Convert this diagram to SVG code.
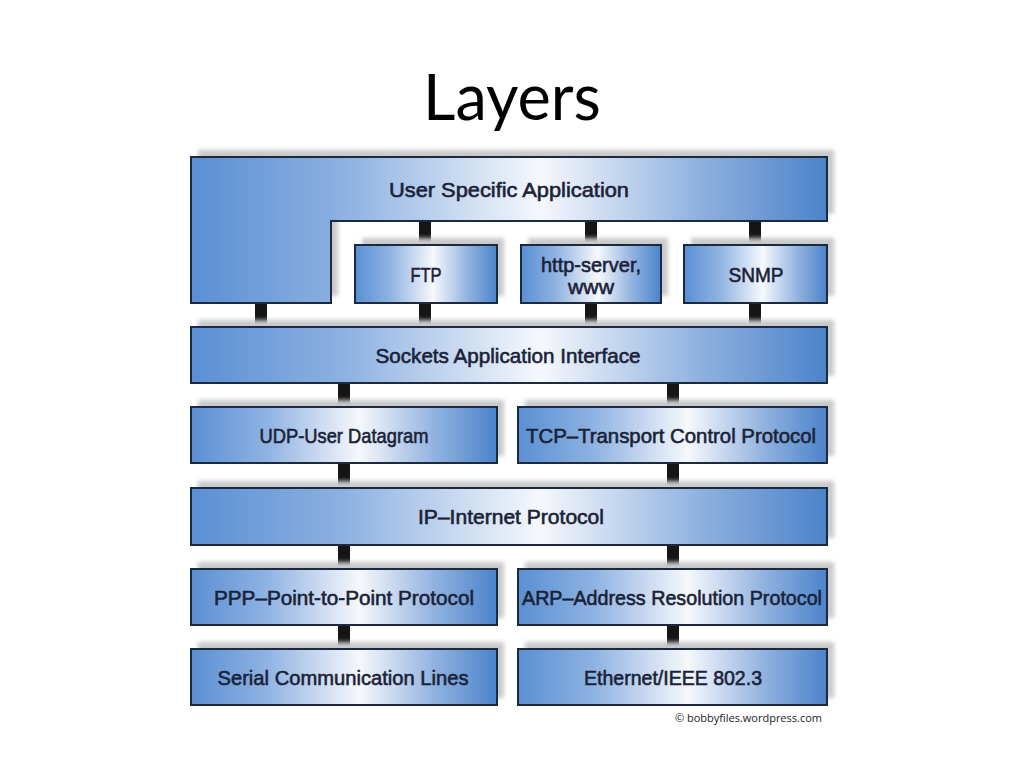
<svg xmlns="http://www.w3.org/2000/svg" width="1024" height="768" viewBox="0 0 1024 768">
<defs>
<linearGradient id="g" x1="0" y1="0" x2="1" y2="0">
<stop offset="0" stop-color="#5a8fd3"/>
<stop offset="0.25" stop-color="#8fb3e2"/>
<stop offset="0.55" stop-color="#f6f8fc"/>
<stop offset="0.8" stop-color="#8fb1df"/>
<stop offset="1" stop-color="#4c83ca"/>
</linearGradient>
<filter id="sh" x="-10%" y="-30%" width="120%" height="160%"><feGaussianBlur stdDeviation="2"/></filter>
<style>
.box{fill:url(#g);stroke:#1c2a40;stroke-width:2}
.shadow{fill:#c9c9c9;filter:url(#sh)}
.lbl{font-family:"Liberation Sans",Arial,sans-serif;font-size:21px;fill:#1a2238;text-anchor:middle;dominant-baseline:central;stroke:#1a2238;stroke-width:0.6}
.conn{fill:#151515}
</style>
</defs>
<rect width="1024" height="768" fill="#ffffff"/>
<text x="512" y="120" font-family="Lato,'Open Sans',sans-serif" font-size="63" fill="#000" text-anchor="middle">Layers</text>

<g id="connectors">
<rect class="conn" x="419" y="221" width="12" height="24"/>
<rect class="conn" x="585" y="221" width="12" height="24"/>
<rect class="conn" x="749" y="221" width="12" height="24"/>
<rect class="conn" x="255" y="303" width="12" height="24"/>
<rect class="conn" x="419" y="303" width="12" height="24"/>
<rect class="conn" x="585" y="303" width="12" height="24"/>
<rect class="conn" x="749" y="303" width="12" height="24"/>
<rect class="conn" x="338" y="383" width="12" height="24"/>
<rect class="conn" x="667" y="383" width="12" height="24"/>
<rect class="conn" x="338" y="463" width="12" height="25"/>
<rect class="conn" x="667" y="463" width="12" height="25"/>
<rect class="conn" x="338" y="545" width="12" height="24"/>
<rect class="conn" x="667" y="545" width="12" height="24"/>
<rect class="conn" x="338" y="625" width="12" height="24"/>
<rect class="conn" x="667" y="625" width="12" height="24"/>
</g>

<g id="user-specific-application">
<path class="shadow" d="M198 150 H834 V214 H338 V296 H198 Z"/>
<path class="box" d="M191 157 H827 V221 H331 V303 H191 Z"/>
<text class="lbl" x="509" y="189" textLength="240" lengthAdjust="spacingAndGlyphs">User Specific Application</text>
</g>
<g id="ftp">
<rect class="shadow" x="362" y="238" width="142" height="58"/>
<rect class="box" x="355" y="245" width="142" height="58"/>
<text class="lbl" x="426" y="274" textLength="31" lengthAdjust="spacingAndGlyphs">FTP</text>
</g>
<g id="http-server">
<rect class="shadow" x="528" y="238" width="140" height="58"/>
<rect class="box" x="521" y="245" width="140" height="58"/>
<text class="lbl" x="591" y="264" textLength="100" lengthAdjust="spacingAndGlyphs">http-server,</text>
<text class="lbl" x="591" y="286" textLength="46" lengthAdjust="spacingAndGlyphs">www</text>
</g>
<g id="snmp">
<rect class="shadow" x="691" y="238" width="143" height="58"/>
<rect class="box" x="684" y="245" width="143" height="58"/>
<text class="lbl" x="756" y="274" textLength="55" lengthAdjust="spacingAndGlyphs">SNMP</text>
</g>
<g id="sockets">
<rect class="shadow" x="198" y="320" width="636" height="56"/>
<rect class="box" x="191" y="327" width="636" height="56"/>
<text class="lbl" x="508" y="355" textLength="265" lengthAdjust="spacingAndGlyphs">Sockets Application Interface</text>
</g>
<g id="udp">
<rect class="shadow" x="198" y="400" width="306" height="56"/>
<rect class="box" x="191" y="407" width="306" height="56"/>
<text class="lbl" x="344" y="435" textLength="169" lengthAdjust="spacingAndGlyphs">UDP-User Datagram</text>
</g>
<g id="tcp">
<rect class="shadow" x="525" y="400" width="309" height="56"/>
<rect class="box" x="518" y="407" width="309" height="56"/>
<text class="lbl" x="671" y="435" textLength="290" lengthAdjust="spacingAndGlyphs">TCP–Transport Control Protocol</text>
</g>
<g id="ip">
<rect class="shadow" x="198" y="481" width="636" height="57"/>
<rect class="box" x="191" y="488" width="636" height="57"/>
<text class="lbl" x="511" y="516" textLength="186" lengthAdjust="spacingAndGlyphs">IP–Internet Protocol</text>
</g>
<g id="ppp">
<rect class="shadow" x="198" y="562" width="306" height="56"/>
<rect class="box" x="191" y="569" width="306" height="56"/>
<text class="lbl" x="344" y="597" textLength="260" lengthAdjust="spacingAndGlyphs">PPP–Point-to-Point Protocol</text>
</g>
<g id="arp">
<rect class="shadow" x="525" y="562" width="309" height="56"/>
<rect class="box" x="518" y="569" width="309" height="56"/>
<text class="lbl" x="672" y="597" textLength="300" lengthAdjust="spacingAndGlyphs">ARP–Address Resolution Protocol</text>
</g>
<g id="serial">
<rect class="shadow" x="198" y="642" width="306" height="56"/>
<rect class="box" x="191" y="649" width="306" height="56"/>
<text class="lbl" x="343" y="677" textLength="251" lengthAdjust="spacingAndGlyphs">Serial Communication Lines</text>
</g>
<g id="ethernet">
<rect class="shadow" x="525" y="642" width="309" height="56"/>
<rect class="box" x="518" y="649" width="309" height="56"/>
<text class="lbl" x="673" y="677" textLength="178" lengthAdjust="spacingAndGlyphs">Ethernet/IEEE 802.3</text>
</g>
<text x="822" y="722" font-family="'Open Sans','Liberation Sans',sans-serif" font-size="11" fill="#222" text-anchor="end">© bobbyfiles.wordpress.com</text>
</svg>
